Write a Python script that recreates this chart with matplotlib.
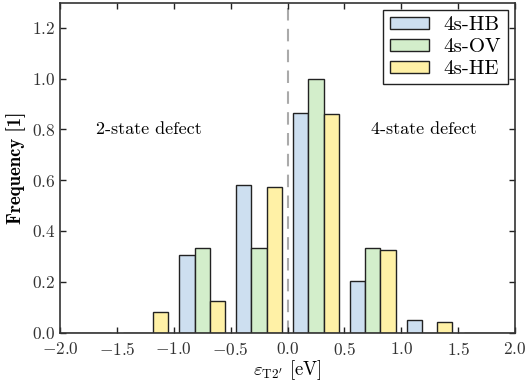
import numpy as np
import matplotlib
matplotlib.use('Agg')
import matplotlib.pyplot as plt

plt.rcParams['font.family'] = 'serif'
plt.rcParams['font.serif'] = ['cmr10', 'DejaVu Serif']
plt.rcParams['mathtext.fontset'] = 'cm'
plt.rcParams['axes.formatter.use_mathtext'] = True

# histogram bins (eV) and normalised frequencies per defect model
bin_edges = [-2.0, -1.5, -1.0, -0.5, 0.0, 0.5, 1.0, 1.5, 2.0]
freq_hb = [0.0, 0.0, 0.304, 0.583, 0.863, 0.203, 0.050, 0.0]
freq_ov = [0.0, 0.0, 0.333, 0.333, 1.000, 0.333, 0.0, 0.0]
freq_he = [0.0, 0.081, 0.123, 0.573, 0.859, 0.326, 0.040, 0.0]
labels = ['4s-HB', '4s-OV', '4s-HE']
colors = ['#cddff0', '#d3eecb', '#fff1a6']

fig = plt.figure(figsize=(5.27, 3.85), dpi=100)
ax = fig.add_axes([60 / 527, 1 - 332.5 / 385, 455 / 527, 330 / 385])

edges = np.array(bin_edges)
width = edges[1] - edges[0]
bar_w = 0.8 * width / 3
left = edges[:-1] + 0.1 * width
for i, (f, lab, c) in enumerate(zip([freq_hb, freq_ov, freq_he], labels, colors)):
    ax.bar(left + i * bar_w, f, width=bar_w, align='edge', color=c,
           edgecolor='#222222', linewidth=1.0, label=lab, zorder=2)

ax.axvline(0.0, color='#aaaaaa', linestyle=(0, (6, 4)), linewidth=1.5, zorder=1)

ax.text(-1.22, 0.80, '2-state defect', ha='center', va='center', fontsize=13)
ax.text(1.2, 0.80, '4-state defect', ha='center', va='center', fontsize=13)

ax.set_xlim(-2.0, 2.0)
ax.set_ylim(0.0, 1.3)
ax.set_xticks(np.arange(-2.0, 2.01, 0.5))
ax.set_yticks(np.arange(0.0, 1.21, 0.2))
ax.tick_params(direction='in', top=True, right=True, length=4, width=1,
               labelsize=12.5, colors='#222222', labelcolor='#333333')
ax.tick_params(axis='x', pad=6)
for s in ax.spines.values():
    s.set_color('#333333')
    s.set_linewidth(1.2)

ax.set_xlabel(r"$\varepsilon_{\mathrm{T2'}}$ [eV]", fontsize=13.5, labelpad=0)
ax.set_ylabel('Frequency [1]', fontsize=13.5, family=['cmb10', 'DejaVu Serif'], labelpad=4)

leg = ax.legend(loc='upper right', fontsize=15, fancybox=False, framealpha=1,
                edgecolor='#222222', borderaxespad=0.35, handlelength=1.9,
                handleheight=0.5, handletextpad=0.7, labelspacing=0.2,
                borderpad=0.3)
leg.get_frame().set_linewidth(1.0)

fig.savefig('out.png', dpi=100)
